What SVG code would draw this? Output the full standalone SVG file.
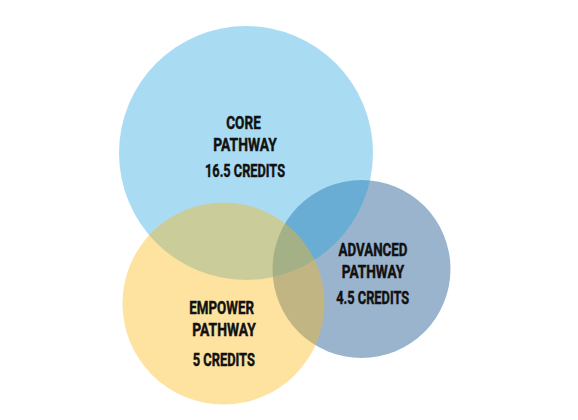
<svg xmlns="http://www.w3.org/2000/svg" width="578" height="420" viewBox="0 0 578 420">
<style>
.lbl{font-family:"Roboto","Liberation Sans",sans-serif;font-weight:700;font-size:17.5px;fill:#111;stroke:#111;stroke-width:0.45;text-anchor:middle}
</style>
<rect width="578" height="420" fill="#ffffff"/>
<g id="advanced">
<circle cx="361.5" cy="269" r="89" fill="#9AB4CE"/>
</g>
<g id="core">
<circle cx="246" cy="153" r="127" fill="#1AA2DF" fill-opacity="0.376"/>
</g>
<g id="empower">
<circle cx="223.5" cy="303.5" r="101" fill="#FAB816" fill-opacity="0.407"/>
</g>
<g id="core-text">
<text class="lbl" x="243.5" y="129" textLength="34.5" lengthAdjust="spacingAndGlyphs">CORE</text>
<text class="lbl" x="245" y="150.5" textLength="63.5" lengthAdjust="spacingAndGlyphs">PATHWAY</text>
<text class="lbl" x="245" y="176.5" textLength="80" lengthAdjust="spacingAndGlyphs">16.5 CREDITS</text>
</g>
<g id="advanced-text">
<text class="lbl" x="373" y="256" textLength="69" lengthAdjust="spacingAndGlyphs">ADVANCED</text>
<text class="lbl" x="373" y="277.5" textLength="62.5" lengthAdjust="spacingAndGlyphs">PATHWAY</text>
<text class="lbl" x="372.7" y="304" textLength="73" lengthAdjust="spacingAndGlyphs">4.5 CREDITS</text>
</g>
<g id="empower-text">
<text class="lbl" x="221.7" y="314" textLength="64.7" lengthAdjust="spacingAndGlyphs">EMPOWER</text>
<text class="lbl" x="224" y="336" textLength="63.4" lengthAdjust="spacingAndGlyphs">PATHWAY</text>
<text class="lbl" x="223.8" y="365.5" textLength="62.3" lengthAdjust="spacingAndGlyphs">5 CREDITS</text>
</g>
<g id="connectors"/>
</svg>
